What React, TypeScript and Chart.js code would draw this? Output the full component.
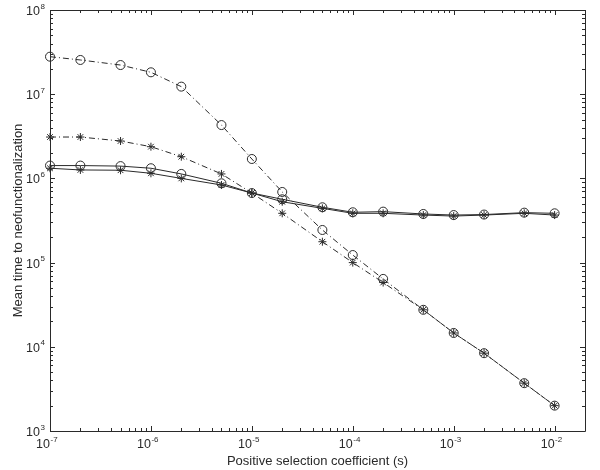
import React, { useEffect, useRef } from "react";
import { Chart, registerables } from "chart.js";

Chart.register(...registerables);

const selectionCoefficients = [1e-7, 2e-7, 5e-7, 1e-6, 2e-6, 5e-6, 1e-5, 2e-5, 5e-5, 1e-4, 2e-4, 5e-4, 1e-3, 2e-3, 5e-3, 1e-2];
const circlesDashDot = [2.79e7, 2.55e7, 2.22e7, 1.82e7, 1.23e7, 4.3e6, 1.7e6, 6.9e5, 2.44e5, 1.23e5, 6.4e4, 2.75e4, 1.46e4, 8.4e3, 3.7e3, 2.0e3];
const starsDashDot = [3.1e6, 3.1e6, 2.78e6, 2.38e6, 1.81e6, 1.13e6, 6.7e5, 3.85e5, 1.77e5, 1.0e5, 5.8e4, 2.75e4, 1.46e4, 8.4e3, 3.7e3, 2.0e3];
const circlesSolid = [1.42e6, 1.42e6, 1.4e6, 1.32e6, 1.13e6, 8.75e5, 6.7e5, 5.65e5, 4.54e5, 3.96e5, 4.03e5, 3.78e5, 3.67e5, 3.72e5, 3.92e5, 3.85e5];
const starsSolid = [1.32e6, 1.26e6, 1.25e6, 1.15e6, 1.0e6, 8.35e5, 6.7e5, 5.28e5, 4.41e5, 3.85e5, 3.85e5, 3.67e5, 3.57e5, 3.67e5, 3.85e5, 3.67e5];

const xTickExponents = [-7, -6, -5, -4, -3, -2];
const yTickExponents = [3, 4, 5, 6, 7, 8];
const xTitle = "Positive selection coefficient (s)";
const yTitle = "Mean time to neofunctionalization";

const INK = "#2a2a2a";
const FONT = "'Liberation Sans', Arial, sans-serif";

const toPoints = (ys: number[]) => selectionCoefficients.map((x, i) => ({ x, y: ys[i] }));

const matlabAxes = {
  id: "matlabAxes",
  afterDraw(chart: any) {
    const { ctx, chartArea } = chart;
    const { left, right, top, bottom } = chartArea;
    const xs = chart.scales.x;
    const ys = chart.scales.y;
    ctx.save();
    ctx.strokeStyle = INK;
    ctx.lineWidth = 1;
    ctx.beginPath();
    ctx.rect(Math.round(left) + 0.5, Math.round(top) + 0.5, Math.round(right - left), Math.round(bottom - top));
    ctx.stroke();

    ctx.beginPath();
    for (let d = -8; d <= -1; d++) {
      for (let m = 1; m <= 9; m++) {
        const v = m * Math.pow(10, d);
        if (v < xs.min * 0.999 || v > xs.max * 1.001) continue;
        const px = Math.round(xs.getPixelForValue(v)) + 0.5;
        const len = m === 1 ? 5 : 3;
        ctx.moveTo(px, bottom);
        ctx.lineTo(px, bottom - len);
        ctx.moveTo(px, top);
        ctx.lineTo(px, top + len);
      }
    }
    for (let d = 3; d <= 8; d++) {
      for (let m = 1; m <= 9; m++) {
        const v = m * Math.pow(10, d);
        if (v < ys.min * 0.999 || v > ys.max * 1.001) continue;
        const py = Math.round(ys.getPixelForValue(v)) + 0.5;
        const len = m === 1 ? 5 : 3;
        ctx.moveTo(left, py);
        ctx.lineTo(left + len, py);
        ctx.moveTo(right, py);
        ctx.lineTo(right - len, py);
      }
    }
    ctx.stroke();

    ctx.fillStyle = INK;
    ctx.textBaseline = "alphabetic";
    xTickExponents.forEach((e) => {
      const px = xs.getPixelForValue(Math.pow(10, e));
      ctx.font = `12.5px ${FONT}`;
      ctx.textAlign = "right";
      ctx.fillText("10", px, bottom + 17);
      ctx.font = `8px ${FONT}`;
      ctx.textAlign = "left";
      ctx.fillText(String(e), px + 0.5, bottom + 10.5);
    });
    yTickExponents.forEach((e) => {
      const py = ys.getPixelForValue(Math.pow(10, e));
      ctx.font = `12.5px ${FONT}`;
      ctx.textAlign = "right";
      ctx.fillText("10", left - 10, py + 5);
      ctx.font = `8px ${FONT}`;
      ctx.textAlign = "left";
      ctx.fillText(String(e), left - 9.5, py - 1.5);
    });

    ctx.font = `13px ${FONT}`;
    ctx.textAlign = "center";
    ctx.fillText(xTitle, (left + right) / 2, 465);
    ctx.save();
    ctx.translate(22, (top + bottom) / 2);
    ctx.rotate(-Math.PI / 2);
    ctx.fillText(yTitle, 0, 0);
    ctx.restore();
    ctx.restore();
  },
};

export default function App() {
  const canvasRef = useRef<HTMLCanvasElement | null>(null);

  useEffect(() => {
    if (!canvasRef.current) return;
    const common = {
      borderColor: INK,
      borderWidth: 1,
      pointBorderColor: INK,
      pointBackgroundColor: "rgba(0,0,0,0)",
      pointBorderWidth: 1,
      fill: false,
      tension: 0,
      clip: false as any,
    };
    const chart = new Chart(canvasRef.current, {
      type: "line",
      data: {
        datasets: [
          { ...common, label: "circles dash-dot", data: toPoints(circlesDashDot), borderDash: [6, 3, 1, 3], pointStyle: "circle", pointRadius: 4.5 },
          { ...common, label: "stars dash-dot", data: toPoints(starsDashDot), borderDash: [6, 3, 1, 3], pointStyle: "star", pointRadius: 4 },
          { ...common, label: "circles solid", data: toPoints(circlesSolid), pointStyle: "circle", pointRadius: 4.5 },
          { ...common, label: "stars solid", data: toPoints(starsSolid), pointStyle: "star", pointRadius: 4 },
        ],
      },
      options: {
        animation: false,
        responsive: false,
        events: [],
        layout: { padding: { top: 10, right: 15, left: 0, bottom: 0 } },
        plugins: { legend: { display: false }, tooltip: { enabled: false } },
        scales: {
          x: {
            type: "logarithmic",
            min: 1e-7,
            max: 2e-2,
            grid: { display: false },
            border: { display: false },
            ticks: { display: false },
            afterFit: (s: any) => { s.height = 39; },
          },
          y: {
            type: "logarithmic",
            min: 1e3,
            max: 1e8,
            grid: { display: false },
            border: { display: false },
            ticks: { display: false },
            afterFit: (s: any) => { s.width = 50; },
          },
        },
      },
      plugins: [matlabAxes],
    });
    return () => chart.destroy();
  }, []);

  return (
    <div style={{ position: "absolute", left: 0, top: 0, width: 600, height: 470, background: "#fff" }}>
      <canvas ref={canvasRef} width={600} height={470} style={{ display: "block" }} />
    </div>
  );
}
